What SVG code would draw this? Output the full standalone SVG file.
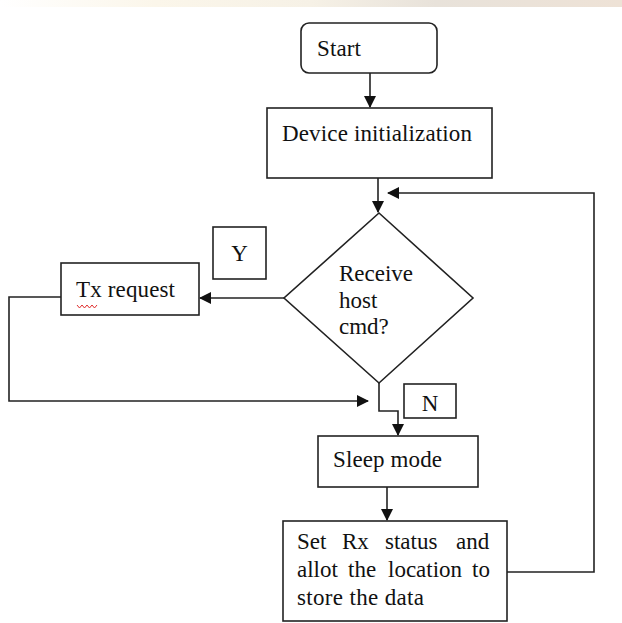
<svg xmlns="http://www.w3.org/2000/svg" width="622" height="623" viewBox="0 0 622 623">
<style>
.box{fill:#fff;stroke:#222;stroke-width:1.6}
.ln{fill:none;stroke:#222;stroke-width:1.6}
.t{font-family:"Liberation Serif","Times New Roman",serif;font-size:23px;fill:#111}
</style>
<defs>
<marker id="ah" markerWidth="12" markerHeight="12" refX="11" refY="6" orient="auto" markerUnits="userSpaceOnUse">
<path d="M0,0 L12,6 L0,12 Z" fill="#111"/>
</marker>
<linearGradient id="band" x1="0" y1="0" x2="1" y2="0">
<stop offset="0" stop-color="#fff"/>
<stop offset="0.25" stop-color="#fbf6ea"/>
<stop offset="0.5" stop-color="#f6f1e6"/>
<stop offset="0.7" stop-color="#e8e2da"/>
<stop offset="1" stop-color="#eee2d6"/>
</linearGradient>
</defs>
<rect width="622" height="623" fill="#fff"/>
<rect x="0" y="0" width="622" height="7" fill="url(#band)"/>

<g id="connectors">
<line class="ln" x1="370" y1="73" x2="370" y2="107" marker-end="url(#ah)"/>
<line class="ln" x1="378" y1="178" x2="378" y2="212" marker-end="url(#ah)"/>
<polyline class="ln" points="507,572 594,572 594,193 388,193" marker-end="url(#ah)"/>
<line class="ln" x1="284" y1="298" x2="200" y2="298" marker-end="url(#ah)"/>
<polyline class="ln" points="61,297 9,297 9,401 368,401" marker-end="url(#ah)"/>
<polyline class="ln" points="379,383 379,411 398,411 398,435" marker-end="url(#ah)"/>
<line class="ln" x1="387" y1="487" x2="387" y2="520" marker-end="url(#ah)"/>
</g>

<g id="start">
<rect class="box" x="301" y="23" width="136" height="50" rx="8"/>
<text class="t" x="317" y="56" textLength="44">Start</text>
</g>

<g id="init">
<rect class="box" x="267" y="108" width="225" height="70"/>
<text class="t" x="282" y="141" textLength="190">Device initialization</text>
</g>

<g id="decision">
<polygon class="box" points="379,213 473,298 379,383 284,298"/>
<text class="t" x="339" y="281">Receive</text>
<text class="t" x="339" y="308">host</text>
<text class="t" x="339" y="334">cmd?</text>
</g>

<g id="tx">
<rect class="box" x="61" y="263" width="138" height="52"/>
<text class="t" x="76" y="297" textLength="99">Tx request</text>
<path d="M77,305 l2.5,3 l2.5,-3 l2.5,3 l2.5,-3 l2.5,3 l2.5,-3 l2.5,3 l2.5,-3" fill="none" stroke="#e03030" stroke-width="1"/>
</g>

<g id="y-label">
<rect class="box" x="213" y="227" width="53" height="52"/>
<text class="t" x="239.5" y="261" text-anchor="middle">Y</text>
</g>

<g id="n-label">
<rect class="box" x="404" y="384" width="52" height="34"/>
<text class="t" x="430" y="411" text-anchor="middle">N</text>
</g>

<g id="sleep">
<rect class="box" x="318" y="436" width="160" height="51"/>
<text class="t" x="333" y="467" textLength="109">Sleep mode</text>
</g>

<g id="setrx">
<rect class="box" x="283" y="521" width="224" height="100"/>
<text class="t" y="549"><tspan x="297">Set</tspan><tspan x="342">Rx</tspan><tspan x="385">status</tspan><tspan x="456">and</tspan></text>
<text class="t" y="577"><tspan x="297">allot</tspan><tspan x="348">the</tspan><tspan x="388">location</tspan><tspan x="472">to</tspan></text>
<text class="t" x="297" y="605" textLength="127">store the data</text>
</g>
</svg>
